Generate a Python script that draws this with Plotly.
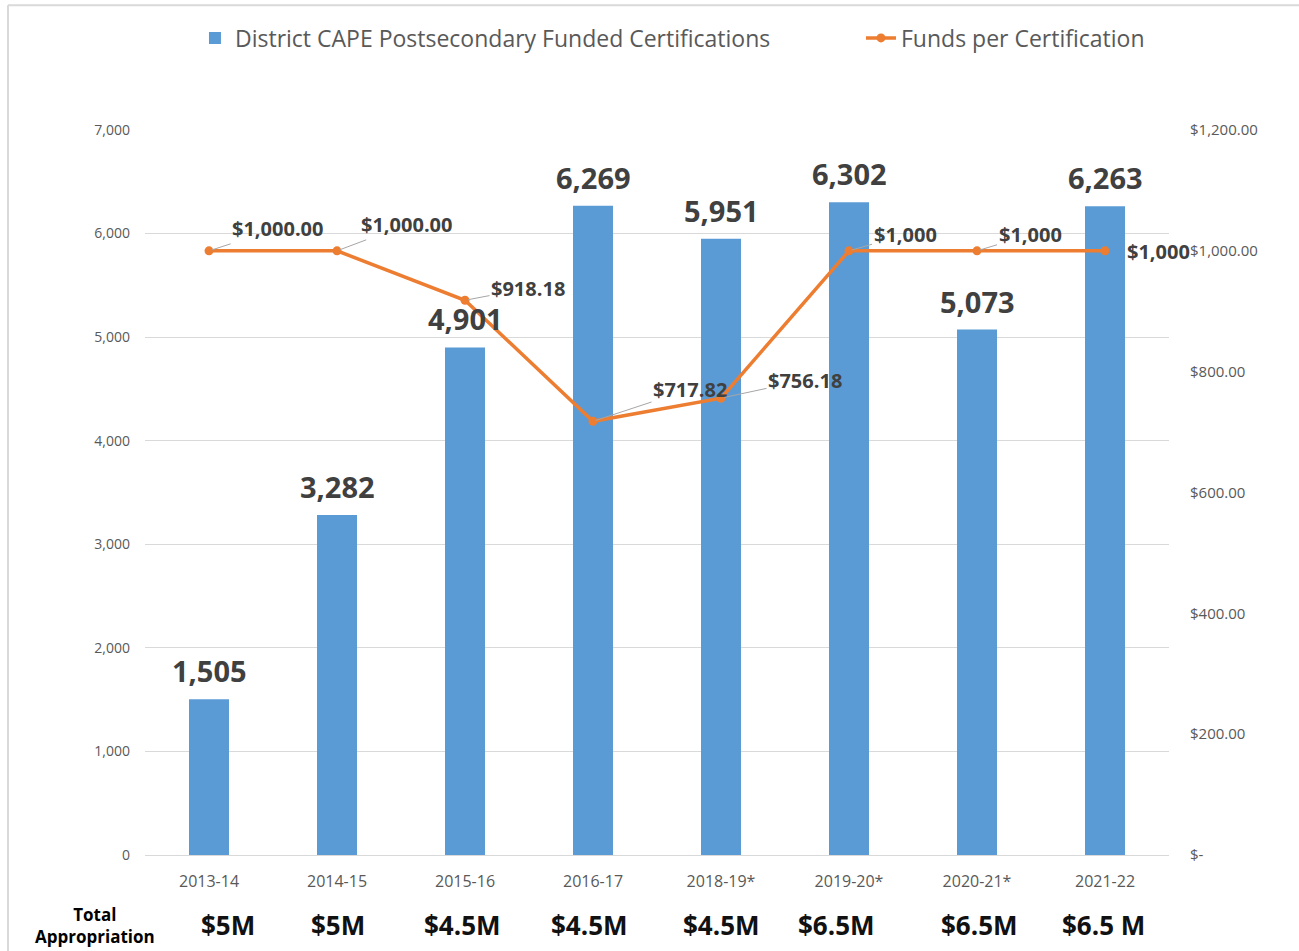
import plotly.graph_objects as go

# ---- data ----
years = ["2013-14", "2014-15", "2015-16", "2016-17", "2018-19*", "2019-20*", "2020-21*", "2021-22"]
certifications = [1505, 3282, 4901, 6269, 5951, 6302, 5073, 6263]
funds_per_cert = [1000.00, 1000.00, 918.18, 717.82, 756.18, 1000, 1000, 1000]
funds_labels = ["$1,000.00", "$1,000.00", "$918.18", "$717.82", "$756.18", "$1,000", "$1,000", "$1,000"]
appropriation = ["$5M", "$5M", "$4.5M", "$4.5M", "$4.5M", "$6.5M", "$6.5M", "$6.5 M"]
left_ticks = [0, 1000, 2000, 3000, 4000, 5000, 6000, 7000]
right_ticks = [0, 200, 400, 600, 800, 1000, 1200]
right_ticktext = ["$-", "$200.00", "$400.00", "$600.00", "$800.00", "$1,000.00", "$1,200.00"]

# ---- style ----
BLUE = "#5B9BD5"
ORANGE = "#ED7D31"
GRID = "#D9D9D9"
AXIS_TXT = "#595959"
LABEL_TXT = "#404040"
FONT = "Open Sans"

# label offsets (pixels) for the line labels
lab_dx = [68, 69, 63, 97, 84, 56, 53, 53]
lab_dy = [-22, -26, -12, -32, -18, -16, -16, 1]
lab_arrow = [True, True, True, True, True, True, True, False]
appro_shift = [19, 1, -3, -4, 0, -13, 2, -2]

fig = go.Figure()
fig.add_trace(go.Bar(
    x=years, y=certifications, name="District CAPE Postsecondary Funded Certifications",
    marker=dict(color=BLUE, line=dict(width=0)), yaxis="y", legend="legend",
))
fig.add_trace(go.Scatter(
    x=years, y=funds_per_cert, name="Funds per Certification", mode="lines+markers",
    line=dict(color=ORANGE, width=3.5), marker=dict(color=ORANGE, size=9), yaxis="y2",
    legend="legend2",
))

annotations = []
for x, v in zip(years, certifications):
    annotations.append(dict(
        x=x, y=v, xref="x", yref="y", text=f"{v:,}", showarrow=False,
        yanchor="bottom", yshift=7,
        font=dict(family=FONT, size=29, color=LABEL_TXT, weight="bold"),
    ))
for x, v, t, dx, dy, arr in zip(years, funds_per_cert, funds_labels, lab_dx, lab_dy, lab_arrow):
    if arr:
        annotations.append(dict(
            x=x, y=v, xref="x", yref="y2", text=t, showarrow=True,
            ax=dx, ay=dy, arrowhead=0, arrowwidth=1, arrowcolor="#A6A6A6", standoff=3,
            font=dict(family=FONT, size=20, color=LABEL_TXT, weight="bold"),
        ))
    else:
        annotations.append(dict(
            x=x, y=v, xref="x", yref="y2", text=t, showarrow=False,
            xshift=dx, yshift=-dy,
            font=dict(family=FONT, size=20, color=LABEL_TXT, weight="bold"),
        ))
for x, t, s in zip(years, appropriation, appro_shift):
    annotations.append(dict(
        x=x, y=-0.0966, xref="x", yref="paper", text=t, showarrow=False, xshift=s,
        xanchor="center", yanchor="middle",
        font=dict(family=FONT, size=26, color="#111111", weight="bold"),
    ))
annotations.append(dict(
    x=-0.0488, y=-0.0966, xref="paper", yref="paper", text="Total<br>Appropriation",
    showarrow=False, align="center", xanchor="center", yanchor="middle",
    font=dict(family=FONT, size=17, color="#000000", weight="bold"),
))

legend_font = dict(family=FONT, size=23, color=AXIS_TXT)
fig.update_layout(
    width=1299, height=951,
    margin=dict(l=145, r=130, t=130, b=96, autoexpand=False),
    paper_bgcolor="white", plot_bgcolor="white",
    bargap=0.6875,
    showlegend=True,
    legend=dict(x=0.0488, y=1.127, xanchor="left", yanchor="middle", font=legend_font,
                bgcolor="rgba(0,0,0,0)"),
    legend2=dict(x=0.6992, y=1.127, xanchor="left", yanchor="middle", font=legend_font,
                 bgcolor="rgba(0,0,0,0)"),
    xaxis=dict(
        type="category", range=[-0.5, len(years) - 0.5], showgrid=False, showline=False,
        zeroline=False, automargin=False,
        tickfont=dict(family=FONT, size=16, color=AXIS_TXT), ticklabelstandoff=15,
    ),
    yaxis=dict(
        range=[0, 7000], tickvals=left_ticks, tickformat=",", showgrid=True, gridcolor=GRID,
        gridwidth=1, zeroline=True, zerolinecolor=GRID, zerolinewidth=1, showline=False,
        automargin=False,
        tickfont=dict(family=FONT, size=14, color=AXIS_TXT), ticklabelstandoff=14,
    ),
    yaxis2=dict(
        range=[0, 1200], tickvals=right_ticks, ticktext=right_ticktext, overlaying="y",
        side="right", showgrid=False, zeroline=False, showline=False, automargin=False,
        tickfont=dict(family=FONT, size=15, color=AXIS_TXT), ticklabelstandoff=20,
    ),
    annotations=annotations,
    shapes=[
        dict(type="line", xref="paper", yref="paper", x0=-0.1338, x1=1.13, y0=1.172, y1=1.172,
             line=dict(color=GRID, width=2)),
        dict(type="line", xref="paper", yref="paper", x0=-0.1338, x1=-0.1338, y0=1.172, y1=-0.14,
             line=dict(color=GRID, width=2)),
    ],
)

# remove the page's default body margin so the 1299x951 figure fills the window exactly
fig.write_html("out.html", config={"displayModeBar": False},
               post_script="document.body.style.margin='0px';")
